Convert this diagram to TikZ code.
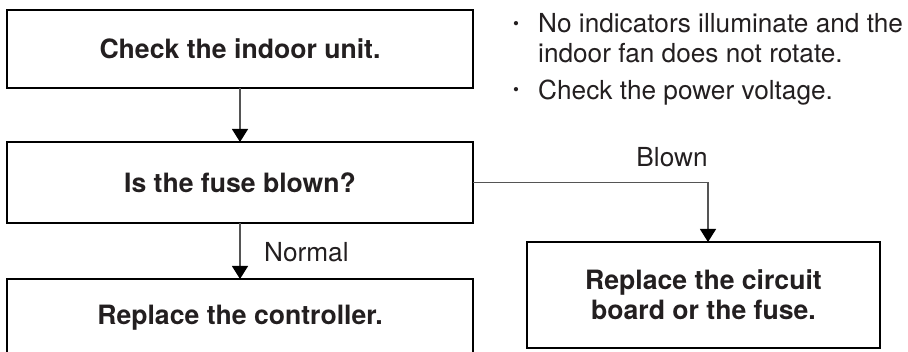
\documentclass[tikz,border=0pt]{standalone}
\usepackage{fontspec}
\setmainfont{TeX Gyre Heros}
\usetikzlibrary{arrows.meta}
\definecolor{ink}{HTML}{231F20}
\definecolor{wire}{HTML}{555555}
\tikzset{
  box/.style={draw=black, line width=2pt, rectangle, inner sep=0pt, outer sep=0pt,
    text=ink, font=\fontsize{26.6}{30}\selectfont\bfseries, align=center},
  conn/.style={draw=wire, line width=1.3pt, -{Triangle[width=16pt,length=13pt,color=black]}},
  lbl/.style={inner sep=0pt, text=ink, font=\fontsize{26.2}{30}\selectfont},
  dot/.style={inner sep=0pt, text=ink, font=\fontsize{17}{18}\selectfont},
}
\begin{document}
\begin{tikzpicture}[x=1pt,y=-1pt]
\useasboundingbox[fill=white] (0,0) rectangle (908,352);
\node[box, minimum width=466pt, minimum height=78pt] (b1) at (240,49) {Check the indoor unit.};
\node[box, minimum width=466pt, minimum height=81pt] (b2) at (240,182.5) {Is the fuse blown?};
\node[box, minimum width=466pt, minimum height=78pt] (b3) at (240,318) {Replace the controller.};
\node[box, minimum width=353pt, minimum height=106pt] (b4) at (703.5,295) {Replace the circuit\\board or the fuse.};
\coordinate (b4in) at (708,242);
\draw[conn] (b1.south) -- (b2.north);
\draw[conn] (b2.south) -- (b3.north);
\draw[conn] (b2.east) -| (b4in);
\node[lbl, anchor=base] (blown) at (672,167) {Blown};
\node[lbl, anchor=base west] (normal) at (264,262) {Normal};
\node[dot] (d1) at (516,26) {•};
\node[dot] (d2) at (516,92) {•};
\node[lbl, anchor=base west] (t1) at (538,33) {No indicators illuminate and the};
\node[lbl, anchor=base west] (t2) at (538,63) {indoor fan does not rotate.};
\node[lbl, anchor=base west] (t3) at (538,100) {Check the power voltage.};
\end{tikzpicture}
\end{document}
